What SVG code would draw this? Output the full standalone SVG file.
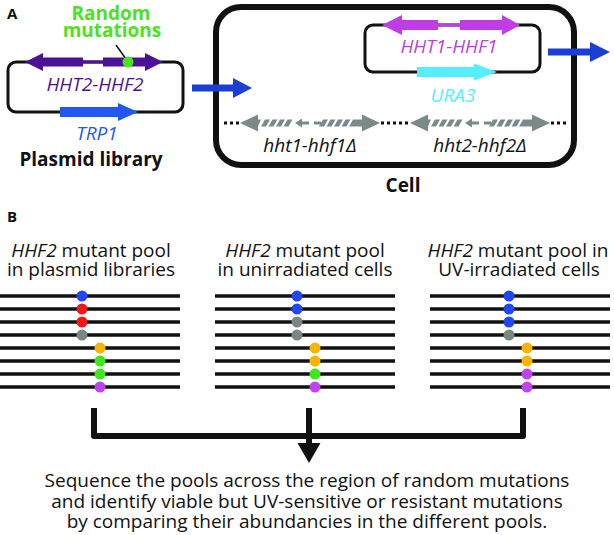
<svg xmlns="http://www.w3.org/2000/svg" width="614" height="535" viewBox="0 0 614 535">
<style>
text { font-family: "Open Sans", "Liberation Sans", sans-serif; }
.lbl { font-weight: bold; font-size: 15px; fill: #111; }
.gene { font-style: italic; font-size: 19px; }
.bld { font-weight: bold; font-size: 19px; fill: #111; }
.txt { font-size: 19px; fill: #111; }
.mid { text-anchor: middle; }
.plasmid { fill: none; stroke: #111; stroke-width: 3; }
.cellbox { fill: none; stroke: #111; stroke-width: 6; }
.pool line { stroke: #111; stroke-width: 3.5; }
.bracket { fill: none; stroke: #111; stroke-width: 6; stroke-linejoin: round; }
.dotline { stroke: #111; stroke-width: 3; stroke-dasharray: 3 3; }
.del { fill: #7b8a89; }
.cb { fill: #2146f2; } .cr { fill: #f01818; } .cg { fill: #7a8684; }
.co { fill: #f8b400; } .cn { fill: #3ee81a; } .cp { fill: #c043f0; }
</style>
<defs>
<g id="delArrow" class="del">
<polygon points="0,0 18,-8.5 18,-3.5 21,-3.5 18,3.5 18,8.5"/>
<polygon points="21,3.5 25,-3.5 30,-3.5 26,3.5"/>
<polygon points="28.5,3.5 32.5,-3.5 37.5,-3.5 33.5,3.5"/>
<polygon points="36,3.5 40,-3.5 45,-3.5 41,3.5"/>
<polygon points="43.5,3.5 47.5,-3.5 52.5,-3.5 48.5,3.5"/>
<polygon points="55,0 62,-4.5 62,-1.5 69,-1.5 69,1.5 62,1.5 62,4.5"/>
<rect x="74" y="-1.5" width="7" height="3"/>
<polygon points="79,3.5 83,-3.5 88,-3.5 84,3.5"/>
<polygon points="86.5,3.5 90.5,-3.5 95.5,-3.5 91.5,3.5"/>
<polygon points="94,3.5 98,-3.5 103,-3.5 99,3.5"/>
<polygon points="101.5,3.5 105.5,-3.5 110.5,-3.5 106.5,3.5"/>
<polygon points="140,0 122,-8.5 122,-3.5 113,-3.5 109,3.5 122,3.5 122,8.5"/>
</g>
</defs>

<g id="label-A"><text class="lbl" x="7" y="19">A</text></g>

<g id="plasmid-library">
<rect class="plasmid" x="8" y="62" width="175" height="50" rx="8"/>
<g fill="#4c1197">
<polygon points="25,62 43,53 43,57.5 83,57.5 83,66.5 43,66.5 43,71"/>
<rect x="83" y="60.5" width="20" height="3"/>
<polygon points="103,57.5 145,57.5 145,53 163,62 145,71 145,66.5 103,66.5"/>
</g>
<polygon fill="#2457f0" points="60,107 118,107 118,103 138,112 118,121 118,117 60,117"/>
<line x1="116" y1="45" x2="126" y2="59" stroke="#111" stroke-width="1.5"/>
<circle cx="128" cy="62" r="5.5" fill="#4ce21e"/>
<text class="bld mid" x="111" y="20" style="fill:#4ce21e">Random</text>
<text class="bld mid" x="112" y="37" style="fill:#4ce21e">mutations</text>
<text class="gene mid" x="95" y="91" fill="#4c1197">HHT2-HHF2</text>
<text class="gene mid" x="97" y="140" fill="#2457f0">TRP1</text>
<text class="bld mid" x="91" y="166">Plasmid library</text>
</g>

<g id="cell">
<rect class="cellbox" x="216" y="7" width="358" height="158" rx="25"/>
<rect class="plasmid" x="365" y="25" width="175" height="47" rx="8"/>
<g fill="#c03de6">
<polygon points="382,25 402,15 402,20 438,20 438,30 402,30 402,35"/>
<rect x="438" y="23.5" width="22" height="3"/>
<polygon points="460,20 502,20 502,15 520,25 502,35 502,30 460,30"/>
</g>
<polygon fill="#55eeff" points="417,67 474,67 474,63.5 497,72 474,80.5 474,77 417,77"/>
<text class="gene mid" x="449" y="53" fill="#c03de6">HHT1-HHF1</text>
<text class="gene mid" x="453" y="102" fill="#55eeff">URA3</text>
<line class="dotline" x1="224" y1="123" x2="240" y2="123"/>
<line class="dotline" x1="381" y1="123" x2="410" y2="123"/>
<line class="dotline" x1="551" y1="123" x2="569" y2="123"/>
<use href="#delArrow" transform="translate(240,123)"/>
<use href="#delArrow" transform="translate(410,123)"/>
<text class="gene mid" x="310" y="152" fill="#111">hht1-hhf1Δ</text>
<text class="gene mid" x="480" y="152" fill="#111">hht2-hhf2Δ</text>
<text class="bld mid" x="403" y="192">Cell</text>
</g>

<g id="connectors-A" fill="#1a3fd4">
<polygon points="192,84.5 233,84.5 233,78 252,88 233,98 233,91.5 192,91.5"/>
<polygon points="548,48.5 590,48.5 590,42 610,52 590,62 590,55.5 548,55.5"/>
</g>

<g id="label-B"><text class="lbl" x="7" y="222">B</text></g>

<g id="pool-plasmid">
<text class="txt mid" x="91" y="257"><tspan font-style="italic">HHF2</tspan> mutant pool</text>
<text class="txt mid" x="91" y="276">in plasmid libraries</text>
<g class="pool">
<line x1="0" y1="296" x2="180" y2="296"/><line x1="0" y1="309" x2="180" y2="309"/>
<line x1="0" y1="322" x2="180" y2="322"/><line x1="0" y1="335" x2="180" y2="335"/>
<line x1="0" y1="348" x2="180" y2="348"/><line x1="0" y1="361" x2="180" y2="361"/>
<line x1="0" y1="374" x2="180" y2="374"/><line x1="0" y1="387" x2="180" y2="387"/>
</g>
<circle class="cb" cx="82" cy="296" r="5.5"/><circle class="cr" cx="82" cy="309" r="5.5"/>
<circle class="cr" cx="82" cy="322" r="5.5"/><circle class="cg" cx="82" cy="335" r="5.5"/>
<circle class="co" cx="100" cy="348" r="5.5"/><circle class="cn" cx="100" cy="361" r="5.5"/>
<circle class="cn" cx="100" cy="374" r="5.5"/><circle class="cp" cx="100" cy="387" r="5.5"/>
</g>

<g id="pool-unirradiated">
<text class="txt mid" x="305" y="257"><tspan font-style="italic">HHF2</tspan> mutant pool</text>
<text class="txt mid" x="305" y="276">in unirradiated cells</text>
<g class="pool">
<line x1="215" y1="296" x2="395" y2="296"/><line x1="215" y1="309" x2="395" y2="309"/>
<line x1="215" y1="322" x2="395" y2="322"/><line x1="215" y1="335" x2="395" y2="335"/>
<line x1="215" y1="348" x2="395" y2="348"/><line x1="215" y1="361" x2="395" y2="361"/>
<line x1="215" y1="374" x2="395" y2="374"/><line x1="215" y1="387" x2="395" y2="387"/>
</g>
<circle class="cb" cx="297" cy="296" r="5.5"/><circle class="cb" cx="297" cy="309" r="5.5"/>
<circle class="cg" cx="297" cy="322" r="5.5"/><circle class="cg" cx="297" cy="335" r="5.5"/>
<circle class="co" cx="315" cy="348" r="5.5"/><circle class="co" cx="315" cy="361" r="5.5"/>
<circle class="cn" cx="315" cy="374" r="5.5"/><circle class="cp" cx="315" cy="387" r="5.5"/>
</g>

<g id="pool-uv">
<text class="txt mid" x="518" y="257"><tspan font-style="italic">HHF2</tspan> mutant pool in</text>
<text class="txt mid" x="519" y="276">UV-irradiated cells</text>
<g class="pool">
<line x1="430" y1="296" x2="610" y2="296"/><line x1="430" y1="309" x2="610" y2="309"/>
<line x1="430" y1="322" x2="610" y2="322"/><line x1="430" y1="335" x2="610" y2="335"/>
<line x1="430" y1="348" x2="610" y2="348"/><line x1="430" y1="361" x2="610" y2="361"/>
<line x1="430" y1="374" x2="610" y2="374"/><line x1="430" y1="387" x2="610" y2="387"/>
</g>
<circle class="cb" cx="509" cy="296" r="5.5"/><circle class="cb" cx="509" cy="309" r="5.5"/>
<circle class="cb" cx="509" cy="322" r="5.5"/><circle class="cg" cx="509" cy="335" r="5.5"/>
<circle class="co" cx="527" cy="348" r="5.5"/><circle class="co" cx="527" cy="361" r="5.5"/>
<circle class="cp" cx="527" cy="374" r="5.5"/><circle class="cp" cx="527" cy="387" r="5.5"/>
</g>

<g id="connectors-B">
<path class="bracket" d="M94,408 V436 H523 V408"/>
<path class="bracket" d="M309,408 V445"/>
<polygon fill="#111" points="297.5,443 320.5,443 309,463"/>
</g>

<g id="summary">
<text class="txt mid" x="307" y="487">Sequence the pools across the region of random mutations</text>
<text class="txt mid" x="307" y="508">and identify viable but UV-sensitive or resistant mutations</text>
<text class="txt mid" x="307" y="528">by comparing their abundancies in the different pools.</text>
</g>
</svg>
